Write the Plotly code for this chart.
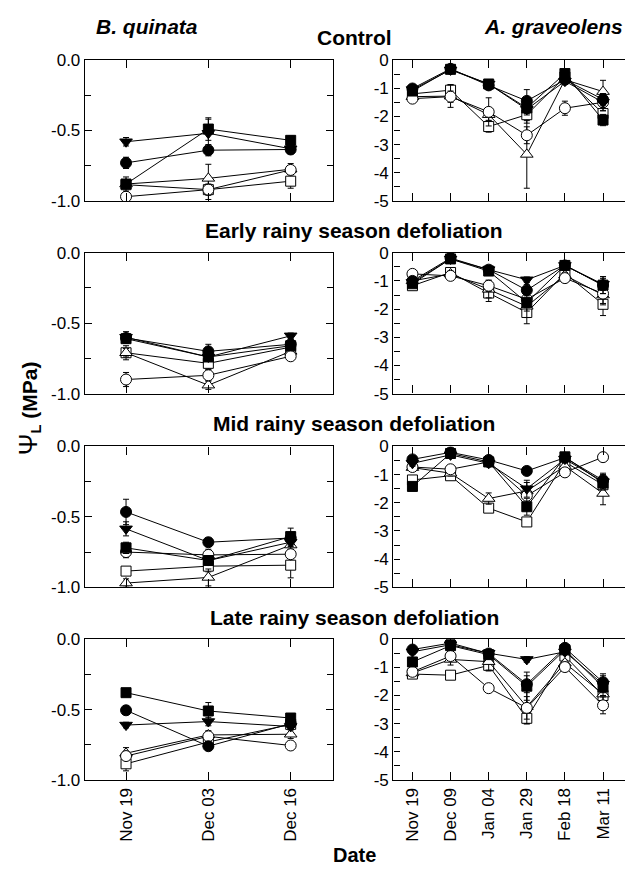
import plotly.graph_objects as go

# ---------------- data ----------------
bq_dates = ["Nov 19", "Dec 03", "Dec 16"]
ag_dates = ["Nov 19", "Dec 09", "Jan 04", "Jan 29", "Feb 18", "Mar 11"]

panel_titles = ["Control", "Early rainy season defoliation",
                "Mid rainy season defoliation", "Late rainy season defoliation"]

# series keys: fc = filled circle, ft = filled down-triangle, fs = filled square,
#              oc = open circle, ot = open triangle, os = open square
series_keys = ["fc", "ft", "fs", "oc", "ot", "os"]

# B. quinata, leaf water potential (MPa)
bq_control = {"fc": [-0.73, -0.64, -0.635], "ft": [-0.58, -0.52, -0.63], "fs": [-0.88, -0.49, -0.57],
              "oc": [-0.97, -0.92, -0.78], "ot": [-0.88, -0.84, -0.775], "os": [-0.885, -0.92, -0.86]}
bq_early = {"fc": [-0.605, -0.70, -0.65], "ft": [-0.60, -0.74, -0.59], "fs": [-0.61, -0.74, -0.66],
            "oc": [-0.90, -0.87, -0.735], "ot": [-0.71, -0.94, -0.70], "os": [-0.71, -0.785, -0.67]}
bq_mid = {"fc": [-0.465, -0.68, -0.65], "ft": [-0.585, -0.81, -0.68], "fs": [-0.72, -0.81, -0.64],
          "oc": [-0.75, -0.77, -0.765], "ot": [-0.97, -0.93, -0.70], "os": [-0.885, -0.85, -0.843]}
bq_late = {"fc": [-0.505, -0.76, -0.60], "ft": [-0.61, -0.585, -0.62], "fs": [-0.38, -0.51, -0.56],
           "oc": [-0.83, -0.69, -0.755], "ot": [-0.81, -0.68, -0.675], "os": [-0.885, -0.73, -0.605]}

# A. graveolens, leaf water potential (MPa)
ag_control = {"fc": [-1.01, -0.31, -0.90, -1.45, -0.70, -1.40], "ft": [-1.05, -0.35, -0.85, -1.75, -0.75, -1.50],
              "fs": [-1.10, -0.33, -0.85, -1.70, -0.48, -2.13], "oc": [-1.37, -1.30, -1.84, -2.67, -1.71, -1.50],
              "ot": [-1.30, -1.28, -1.94, -3.35, -0.70, -1.12], "os": [-1.20, -1.07, -2.36, -1.94, -0.60, -1.90]}
ag_early = {"fc": [-1.00, -0.19, -0.60, -1.33, -0.45, -1.15], "ft": [-1.05, -0.22, -0.60, -0.96, -0.45, -1.12],
            "fs": [-1.10, -0.22, -0.65, -1.77, -0.45, -1.15], "oc": [-0.75, -0.82, -1.17, -1.65, -0.90, -1.45],
            "ot": [-1.00, -0.75, -1.30, -1.90, -0.80, -1.50], "os": [-1.17, -0.70, -1.43, -2.12, -0.73, -1.83]}
ag_mid = {"fc": [-0.46, -0.21, -0.48, -0.87, -0.40, -1.20], "ft": [-0.60, -0.30, -0.60, -1.50, -0.45, -1.25],
          "fs": [-1.42, -0.25, -0.55, -2.14, -0.37, -1.30], "oc": [-0.73, -0.81, -0.55, -1.75, -0.92, -0.38],
          "ot": [-0.75, -0.95, -1.85, -1.58, -0.70, -1.67], "os": [-1.19, -1.04, -2.19, -2.68, -0.55, -1.36]}
ag_late = {"fc": [-0.37, -0.14, -0.51, -1.60, -0.31, -1.53], "ft": [-0.45, -0.20, -0.50, -0.72, -0.45, -1.60],
           "fs": [-0.81, -0.23, -0.55, -1.67, -0.38, -1.70], "oc": [-1.16, -0.60, -1.74, -2.44, -0.99, -2.35],
           "ot": [-1.20, -0.72, -0.80, -2.40, -0.85, -1.95], "os": [-1.24, -1.28, -0.93, -2.81, -0.60, -2.00]}

# standard errors (MPa)
bq_control_err = {"fc": [0.04, 0.04, 0.03], "ft": [0.03, 0.1, 0.03], "fs": [0.05, 0.08, 0.03],
                  "oc": [0.02, 0.04, 0.03], "ot": [0.03, 0.1, 0.04], "os": [0.03, 0.07, 0.05]}
bq_early_err = {"fc": [0.03, 0.05, 0.03], "ft": [0.04, 0.03, 0.02], "fs": [0.03, 0.03, 0.03],
                "oc": [0.05, 0.04, 0.03], "ot": [0.03, 0.03, 0.03], "os": [0.05, 0.04, 0.03]}
bq_mid_err = {"fc": [0.09, 0.03, 0.03], "ft": [0.05, 0.03, 0.03], "fs": [0.04, 0.03, 0.06],
              "oc": [0.04, 0.04, 0.03], "ot": [0.03, 0.06, 0.03], "os": [0.03, 0.04, 0.09]}
bq_late_err = {"fc": [0.03, 0.03, 0.03], "ft": [0.02, 0.03, 0.02], "fs": [0.02, 0.06, 0.03],
               "oc": [0.03, 0.03, 0.03], "ot": [0.04, 0.03, 0.03], "os": [0.05, 0.03, 0.03]}
ag_control_err = {"fc": [0.1, 0.05, 0.1, 0.4, 0.1, 0.2], "ft": [0.1, 0.05, 0.1, 0.2, 0.1, 0.3],
                  "fs": [0.1, 0.05, 0.1, 0.2, 0.1, 0.2], "oc": [0.1, 0.2, 0.5, 0.3, 0.25, 0.3],
                  "ot": [0.1, 0.4, 0.2, 1.2, 0.1, 0.4], "os": [0.1, 0.2, 0.2, 0.3, 0.1, 0.2]}
ag_early_err = {"fc": [0.1, 0.05, 0.1, 0.2, 0.1, 0.3], "ft": [0.1, 0.05, 0.1, 0.1, 0.1, 0.2],
                "oc": [0.1, 0.1, 0.2, 0.3, 0.1, 0.4], "fs": [0.1, 0.05, 0.1, 0.3, 0.1, 0.3],
                "ot": [0.1, 0.1, 0.3, 0.4, 0.1, 0.3], "os": [0.1, 0.1, 0.3, 0.4, 0.1, 0.4]}
ag_mid_err = {"fc": [0.1, 0.05, 0.1, 0.1, 0.1, 0.2], "ft": [0.1, 0.1, 0.1, 0.3, 0.1, 0.3],
              "fs": [0.1, 0.1, 0.1, 0.3, 0.1, 0.2], "oc": [0.1, 0.1, 0.1, 0.3, 0.1, 0.1],
              "ot": [0.1, 0.1, 0.2, 0.3, 0.1, 0.4], "os": [0.1, 0.1, 0.1, 0.1, 0.1, 0.3]}
ag_late_err = {"fc": [0.1, 0.05, 0.1, 0.3, 0.1, 0.3], "ft": [0.1, 0.05, 0.1, 0.1, 0.1, 0.3],
               "fs": [0.1, 0.1, 0.1, 0.5, 0.1, 0.3], "oc": [0.1, 0.1, 0.1, 0.4, 0.1, 0.3],
               "ot": [0.1, 0.2, 0.3, 0.6, 0.1, 0.3], "os": [0.1, 0.1, 0.2, 0.2, 0.1, 0.2]}

bq_panels = [bq_control, bq_early, bq_mid, bq_late]
ag_panels = [ag_control, ag_early, ag_mid, ag_late]
bq_errs = [bq_control_err, bq_early_err, bq_mid_err, bq_late_err]
ag_errs = [ag_control_err, ag_early_err, ag_mid_err, ag_late_err]

# ---------------- styles ----------------
W, H = 633, 872
FONT = "Liberation Sans, Arial, Helvetica, sans-serif"
marker_style = {
    "fc": dict(symbol="circle", size=11, color="black"),
    "ft": dict(symbol="triangle-down", size=11, color="black"),
    "fs": dict(symbol="square", size=10, color="black"),
    "oc": dict(symbol="circle", size=11, color="white"),
    "ot": dict(symbol="triangle-up", size=11, color="white"),
    "os": dict(symbol="square", size=10, color="white"),
}
draw_order = ["os", "ot", "oc", "fs", "ft", "fc"]

row_tops = [44, 241, 439, 636]
row_h = 144
left_dom = [77 / W, 326 / W]
right_dom = [386 / W, 1.0]

fig = go.Figure()
layout = dict(
    width=W, height=H, margin=dict(l=0, r=0, t=0, b=0),
    paper_bgcolor="white", plot_bgcolor="white", showlegend=False,
    font=dict(family=FONT, size=17, color="black"),
)

axis_common = dict(showline=True, linecolor="black", linewidth=1.3, mirror="ticks",
                   ticks="inside", tickcolor="black", ticklen=7, tickwidth=1.2,
                   showgrid=False, zeroline=False,
                   tickfont=dict(family=FONT, size=17, color="black"))

n = 0
for r in range(4):
    ydom = [1 - (row_tops[r] + row_h) / H, 1 - row_tops[r] / H]
    for c in range(2):
        n += 1
        xa = "x" if n == 1 else f"x{n}"
        ya = "y" if n == 1 else f"y{n}"
        if c == 0:
            dates, data, err = bq_dates, bq_panels[r], bq_errs[r]
            xrange = [-0.5, 2.52]
            yax = dict(axis_common, domain=ydom, anchor=xa, range=[-1, 0],
                       tickvals=[0, -0.5, -1.0], ticktext=["0.0", "-0.5", "-1.0"],
                       minor=dict(tickvals=[-0.25, -0.75], ticks="inside", ticklen=6,
                                  tickcolor="black", tickwidth=1.2))
            xdom = left_dom
        else:
            dates, data, err = ag_dates, ag_panels[r], ag_errs[r]
            xrange = [-0.5, 5.97]
            yax = dict(axis_common, domain=ydom, anchor=xa, range=[-5, 0],
                       tickvals=[0, -1, -2, -3, -4, -5], ticktext=["0", "-1", "-2", "-3", "-4", "-5"],
                       ticks="",
                       minor=dict(tickvals=[-0.5, -1, -1.5, -2, -2.5, -3, -3.5, -4, -4.5],
                                  ticks="inside", ticklen=6, tickcolor="black", tickwidth=1.2))
            xdom = right_dom
        xax = dict(axis_common, domain=xdom, anchor=ya, range=xrange,
                   tickvals=list(range(len(dates))), ticktext=dates,
                   tickangle=-90, showticklabels=(r == 3), ticklen=8)
        layout["xaxis" if n == 1 else f"xaxis{n}"] = xax
        layout["yaxis" if n == 1 else f"yaxis{n}"] = yax

        for k in draw_order:
            ms = marker_style[k]
            fig.add_trace(go.Scatter(
                x=list(range(len(dates))), y=data[k], xaxis=xa, yaxis=ya,
                mode="lines+markers",
                line=dict(color="black", width=1),
                marker=dict(symbol=ms["symbol"], size=ms["size"], color=ms["color"],
                            line=dict(color="black", width=1)),
                error_y=dict(type="data", array=err[k], color="black", thickness=1, width=3),
                hoverinfo="skip",
            ))

ann = []
title_font = dict(family=FONT, size=21, color="black")
ann.append(dict(text="<b><i>B. quinata</i></b>", x=139 / W, y=1 - 10 / H, xref="paper", yref="paper",
                showarrow=False, font=title_font, xanchor="center", yanchor="middle"))
ann.append(dict(text="<b><i>A. graveolens</i></b>", x=546 / W, y=1 - 10 / H, xref="paper", yref="paper",
                showarrow=False, font=title_font, xanchor="center", yanchor="middle"))
title_y = [21, 218, 416, 614]
for i, t in enumerate(panel_titles):
    ann.append(dict(text=f"<b>{t}</b>", x=347 / W, y=1 - title_y[i] / H, xref="paper", yref="paper",
                    showarrow=False, font=title_font, xanchor="center", yanchor="middle"))
ann.append(dict(text="<b>Date</b>", x=347 / W, y=1 - 857 / H, xref="paper", yref="paper",
                showarrow=False, font=dict(family=FONT, size=20, color="black"),
                xanchor="center", yanchor="middle"))
ann.append(dict(text="<span style='font-size:26px'>Ψ</span><b><sub>L</sub> (MPa)</b>",
                x=20 / W, y=1 - 400 / H, xref="paper", yref="paper",
                showarrow=False, font=dict(family=FONT, size=21, color="black"), textangle=-90,
                xanchor="center", yanchor="middle"))
layout["annotations"] = ann
layout["hovermode"] = False

fig.update_layout(**layout)
fig.write_html("out.html")
